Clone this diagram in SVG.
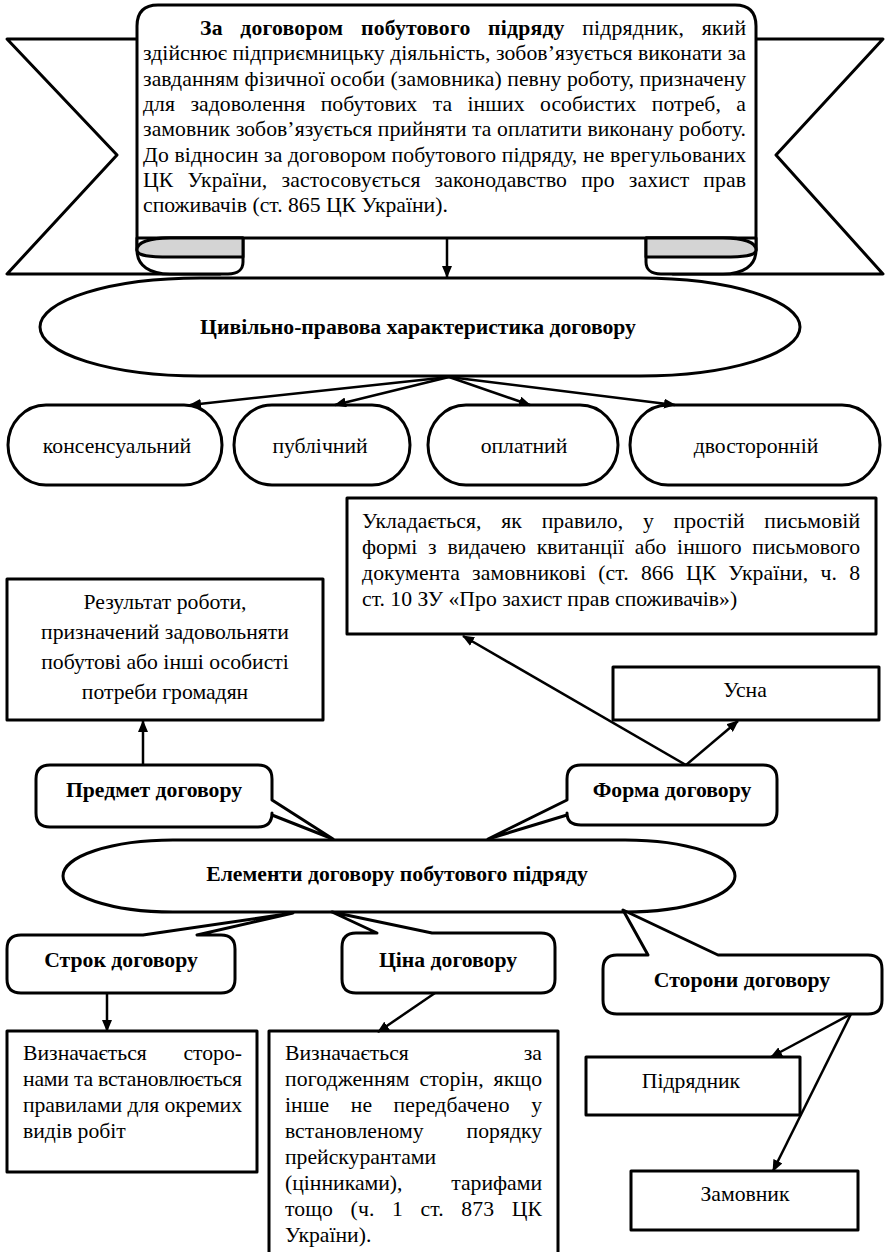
<svg xmlns="http://www.w3.org/2000/svg" width="886" height="1252" viewBox="0 0 886 1252" font-family="'Liberation Serif', 'DejaVu Serif', serif">
<style>
text{font-family:'Liberation Serif','DejaVu Serif',serif;font-size:21.7px;fill:#000}
.b{font-weight:bold}
.m{text-anchor:middle}
.e{text-anchor:end}
.s{fill:#fff;stroke:#000;stroke-width:3;stroke-linejoin:round}
.g{fill:#d4d4d4;stroke:#000;stroke-width:3;stroke-linejoin:round}
.c{fill:none;stroke:#000;stroke-width:2.5}
</style>
<defs>
<marker id="ah" viewBox="0 0 12 10" refX="11" refY="5" markerWidth="12" markerHeight="10" markerUnits="userSpaceOnUse" orient="auto"><path d="M0,0 L12,5 L0,10 Z" fill="#000"/></marker>
</defs>
<rect width="886" height="1252" fill="#fff"/>

<g id="banner">
<polygon class="s" points="160,39 7,39 117,155 7,274 220,274"/>
<polygon class="s" points="733,39 883,39 776,155 883,274 673,274"/>
<path class="s" d="M137,250 V26 Q137,5 158,5 H735 Q756,5 756,26 V250 C756,243 746,238 730,238 H165 C148,238 137,243 137,250 Z"/>
<path class="s" d="M137,238 L137,250 C137,266 150,274 170,274 L228,274 C238,274 243,269 243,262 L243,238 Z"/>
<path class="g" d="M137,250 C137,242 150,238 170,238 L243,238 L243,257 L170,257 C150,257 137,256 137,250 Z"/>
<path class="s" d="M756,238 L756,250 C756,266 743,274 723,274 L661,274 C651,274 646,269 646,262 L646,238 Z"/>
<path class="g" d="M756,250 C756,242 743,238 723,238 L646,238 L646,257 L723,257 C743,257 756,256 756,250 Z"/>
<text x="200" y="35" textLength="546" lengthAdjust="spacing" style="word-spacing:12px"><tspan class="b">За договором побутового підряду</tspan> підрядник, який</text>
<text x="143" y="60" textLength="603" lengthAdjust="spacing">здійснює підприємницьку діяльність, зобов’язується виконати за</text>
<text x="143" y="86" textLength="603" lengthAdjust="spacing">завданням фізичної особи (замовника) певну роботу, призначену</text>
<text x="143" y="111" textLength="603" lengthAdjust="spacing" style="word-spacing:10px">для задоволення побутових та інших особистих потреб, а</text>
<text x="143" y="136" textLength="603" lengthAdjust="spacing">замовник зобов’язується прийняти та оплатити виконану роботу.</text>
<text x="143" y="162" textLength="603" lengthAdjust="spacing">До відносин за договором побутового підряду, не врегульованих</text>
<text x="143" y="187" textLength="603" lengthAdjust="spacing" style="word-spacing:8.6px">ЦК України, застосовується законодавство про захист прав</text>
<text x="143" y="212">споживачів (ст. 865 ЦК України).</text>
</g>

<g id="char">
<rect class="s" x="40" y="278" width="760" height="98" rx="160" ry="49"/>
<text class="b m" x="418" y="334">Цивільно-правова характеристика договору</text>
</g>
<g id="p1"><rect class="s" x="8" y="405" width="214" height="80" rx="38" ry="40"/><text class="m" x="117" y="453">консенсуальний</text></g>
<g id="p2"><rect class="s" x="234" y="405" width="176" height="80" rx="38" ry="40"/><text class="m" x="320" y="453">публічний</text></g>
<g id="p3"><rect class="s" x="428" y="405" width="190" height="80" rx="38" ry="40"/><text class="m" x="524" y="453">оплатний</text></g>
<g id="p4"><rect class="s" x="630" y="405" width="250" height="80" rx="38" ry="40"/><text class="m" x="756" y="453">двосторонній</text></g>

<g id="form-written">
<rect class="s" x="347" y="498" width="529" height="136"/>
<text x="362" y="528" textLength="498" lengthAdjust="spacing" style="word-spacing:14.3px">Укладається, як правило, у простій письмовій</text>
<text x="362" y="554" textLength="498" lengthAdjust="spacing" style="word-spacing:5.3px">формі з видачею квитанції або іншого письмового</text>
<text x="362" y="580" textLength="498" lengthAdjust="spacing" style="word-spacing:6.6px">документа замовникові (ст. 866 ЦК України, ч. 8</text>
<text x="362" y="606">ст. 10 ЗУ «Про захист прав споживачів»)</text>
</g>

<g id="subject-box">
<rect class="s" x="7" y="579" width="316" height="141"/>
<text class="m" x="165" y="609">Результат роботи,</text>
<text class="m" x="165" y="639">призначений задовольняти</text>
<text class="m" x="165" y="669">побутові або інші особисті</text>
<text class="m" x="165" y="699">потреби громадян</text>
</g>

<g id="oral"><rect class="s" x="613" y="667" width="266" height="53"/><text class="m" x="745" y="697">Усна</text></g>

<g id="elements">
<rect class="s" x="63" y="840" width="672" height="72" rx="110" ry="36"/>
<text class="b m" x="397" y="881">Елементи договору побутового підряду</text>
</g>

<g id="subject">
<path class="s" d="M50,765 H258 Q272,765 272,779 V800 L333,839 L272,815 V813 Q272,827 258,827 H50 Q36,827 36,813 V779 Q36,765 50,765 Z"/>
<text class="b m" x="154" y="797">Предмет договору</text>
</g>
<g id="form">
<path class="s" d="M581,765 H763 Q777,765 777,779 V811 Q777,825 763,825 H581 Q567,825 567,813 V815 L488,839 L567,800 V779 Q567,765 581,765 Z"/>
<text class="b m" x="672" y="797">Форма договору</text>
</g>
<g id="term">
<path class="s" d="M21,935 H143 L293,913 L197,935 H221 Q235,935 235,949 V979 Q235,993 221,993 H21 Q7,993 7,979 V949 Q7,935 21,935 Z"/>
<text class="b m" x="121" y="967">Строк договору</text>
</g>
<g id="price">
<path class="s" d="M356,933 H377 L332,912 L432,933 H541 Q555,933 555,947 V979 Q555,993 541,993 H356 Q342,993 342,979 V947 Q342,933 356,933 Z"/>
<text class="b m" x="448" y="967">Ціна договору</text>
</g>
<g id="parties">
<path class="s" d="M617,955 H648 L623,910 L718,955 H868 Q882,955 882,969 V1000 Q882,1014 868,1014 H617 Q603,1014 603,1000 V969 Q603,955 617,955 Z"/>
<text class="b m" x="742" y="987">Сторони договору</text>
</g>

<g id="term-box">
<rect class="s" x="7" y="1031" width="250" height="141"/>
<text x="23" y="1060">Визначається</text>
<text class="e" x="242" y="1060">сторо-</text>
<text x="23" y="1086" textLength="219" lengthAdjust="spacing">нами та встановлюється</text>
<text x="23" y="1112" textLength="219" lengthAdjust="spacing">правилами для окремих</text>
<text x="23" y="1138">видів робіт</text>
</g>

<g id="price-box">
<rect class="s" x="269" y="1031" width="289" height="232"/>
<text x="285" y="1060">Визначається</text><text class="e" x="542" y="1060">за</text>
<text x="285" y="1086" textLength="257" lengthAdjust="spacing" style="word-spacing:4.2px">погодженням сторін, якщо</text>
<text x="285" y="1112" textLength="257" lengthAdjust="spacing" style="word-spacing:16px">інше не передбачено у</text>
<text x="285" y="1138">встановленому</text><text class="e" x="542" y="1138">порядку</text>
<text x="285" y="1164">прейскурантами</text>
<text x="285" y="1190">(цінниками),</text><text class="e" x="542" y="1190">тарифами</text>
<text x="285" y="1216" textLength="257" lengthAdjust="spacing" style="word-spacing:12px">тощо (ч. 1 ст. 873 ЦК</text>
<text x="285" y="1242">України).</text>
</g>

<g id="contractor"><rect class="s" x="586" y="1057" width="214" height="58"/><text class="m" x="691" y="1088">Підрядник</text></g>
<g id="customer"><rect class="s" x="631" y="1171" width="227" height="59"/><text class="m" x="745" y="1201">Замовник</text></g>

<g id="connectors">
<line class="c" x1="447" y1="238" x2="447" y2="277" stroke-width="2" marker-end="url(#ah)"/>
<line class="c" x1="449" y1="377" x2="190" y2="405" marker-end="url(#ah)"/>
<line class="c" x1="449" y1="377" x2="335" y2="405" marker-end="url(#ah)"/>
<line class="c" x1="449" y1="377" x2="530" y2="405" marker-end="url(#ah)"/>
<line class="c" x1="449" y1="377" x2="675" y2="405" marker-end="url(#ah)"/>
<line class="c" x1="143" y1="765" x2="143" y2="721" marker-end="url(#ah)"/>
<line class="c" x1="686" y1="765" x2="463" y2="636" marker-end="url(#ah)"/>
<line class="c" x1="686" y1="765" x2="738" y2="721" marker-end="url(#ah)"/>
<line class="c" x1="107" y1="993" x2="107" y2="1031" marker-end="url(#ah)"/>
<line class="c" x1="435" y1="993" x2="378" y2="1032" marker-end="url(#ah)"/>
<line class="c" x1="851" y1="1014" x2="771" y2="1057" marker-end="url(#ah)"/>
<line class="c" x1="851" y1="1014" x2="773" y2="1171" marker-end="url(#ah)"/>
</g>
</svg>
